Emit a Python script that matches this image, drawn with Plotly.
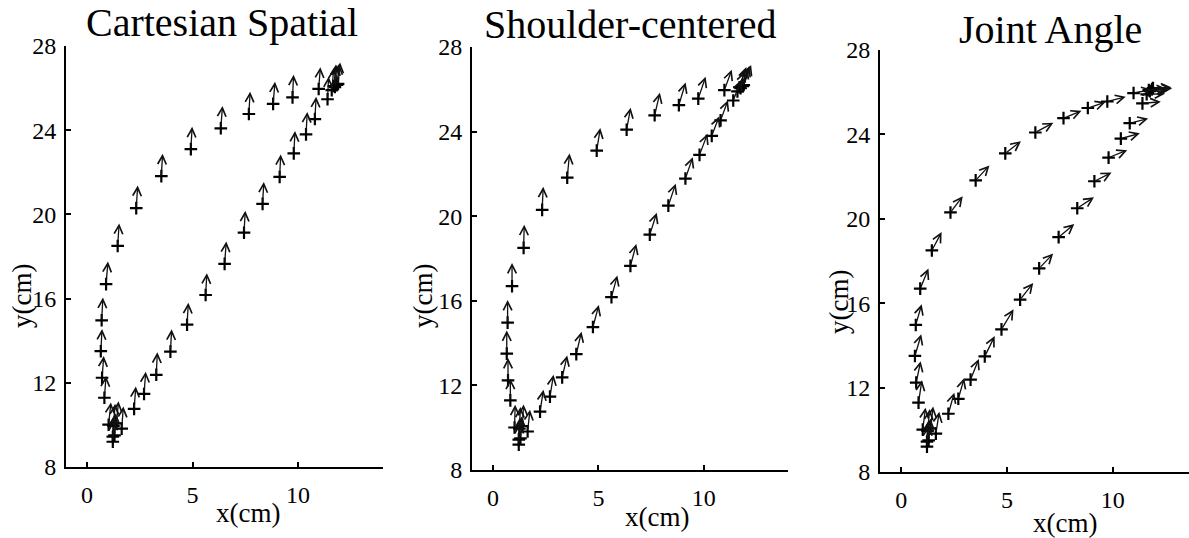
import plotly.graph_objects as go

# Hand trajectory points (cm), shared by all three panels
x = [11.85, 11.70, 10.98, 9.74, 8.82, 7.67, 6.34, 4.92, 3.52, 2.33, 1.45, 0.90,
     0.69, 0.65, 0.71, 0.82, 1.02, 1.22, 1.22, 1.30, 1.25, 1.39, 1.64, 2.23,
     2.70, 3.28, 3.95, 4.74, 5.62, 6.52, 7.44, 8.32, 9.13, 9.80, 10.38, 10.80,
     11.40, 11.60, 11.75, 11.90]
y = [26.15, 26.10, 25.96, 25.56, 25.25, 24.77, 24.09, 23.10, 21.82, 20.30, 18.50, 16.69,
     14.97, 13.50, 12.24, 11.29, 10.01, 9.44, 9.20, 9.50, 9.95, 10.07, 9.82, 10.76,
     11.47, 12.38, 13.48, 14.76, 16.17, 17.65, 19.13, 20.50, 21.78, 22.90, 23.80, 24.53,
     25.47, 25.90, 26.05, 26.20]

# Arrow components, Cartesian Spatial
u1 = [0.10, 0.10, 0.08, 0.05, 0.09, 0.06, 0.08, 0.06, 0.06, 0.07, 0.07, 0.09,
      0.06, 0.06, 0.08, 0.08, 0.11, 0.08, 0.05, 0.06, 0.08, 0.10, 0.08, 0.08,
      0.08, 0.05, 0.06, 0.06, 0.06, 0.08, 0.06, 0.06, 0.05, 0.06, 0.06, 0.06,
      0.05, 0.10, 0.10, 0.10]
v1 = [1.00, 1.02, 1.03, 1.07, 1.05, 1.06, 1.06, 1.06, 1.06, 1.07, 1.07, 1.07,
      1.08, 1.05, 1.03, 1.03, 1.06, 1.05, 1.05, 1.05, 1.05, 1.05, 1.05, 1.06,
      1.06, 1.07, 1.06, 1.04, 1.04, 1.06, 1.04, 1.04, 1.07, 1.06, 1.07, 1.06,
      1.07, 1.05, 1.05, 1.02]

# Arrow components, Shoulder-centered
u2 = [0.32, 0.32, 0.35, 0.35, 0.32, 0.25, 0.19, 0.17, 0.11, 0.05, 0.03, 0.00,
      0.00, 0.00, 0.00, 0.00, 0.03, 0.05, 0.05, 0.05, 0.05, 0.06, 0.11, 0.16,
      0.17, 0.24, 0.25, 0.28, 0.28, 0.28, 0.33, 0.35, 0.35, 0.38, 0.36, 0.35,
      0.38, 0.35, 0.35, 0.35]
v2 = [0.95, 0.95, 0.96, 1.03, 1.07, 1.07, 1.04, 1.07, 1.14, 1.09, 1.10, 1.10,
      1.07, 1.10, 1.06, 1.03, 1.07, 1.03, 1.03, 1.03, 1.03, 1.03, 1.03, 1.03,
      1.03, 1.03, 1.06, 1.04, 1.03, 1.04, 1.03, 1.04, 1.01, 1.00, 0.93, 0.95,
      0.98, 0.95, 0.95, 0.95]

# Arrow components, Joint Angle
u3 = [0.95, 0.87, 0.87, 0.87, 0.84, 0.85, 0.85, 0.74, 0.65, 0.58, 0.46, 0.39,
      0.28, 0.30, 0.21, 0.16, 0.13, 0.09, 0.08, 0.09, 0.10, 0.12, 0.16, 0.28,
      0.28, 0.39, 0.47, 0.57, 0.62, 0.66, 0.74, 0.79, 0.81, 0.88, 0.90, 0.87,
      0.87, 0.87, 0.87, 0.87]
v3 = [0.03, 0.05, 0.17, 0.22, 0.28, 0.35, 0.46, 0.58, 0.71, 0.77, 0.87, 0.95,
      0.98, 1.03, 1.01, 1.06, 1.04, 1.03, 1.03, 1.03, 1.03, 1.03, 1.03, 1.00,
      0.98, 0.98, 0.96, 0.95, 0.79, 0.70, 0.62, 0.52, 0.41, 0.35, 0.25, 0.22,
      0.08, 0.03, 0.03, 0.03]

titles = ["Cartesian Spatial", "Shoulder-centered", "Joint Angle"]
x_ticks = [0, 5, 10]
y_ticks = [8, 12, 16, 20, 24, 28]

W, H = 1189, 538
# pixel boxes (left, right, top, bottom) for each panel
boxes = [(66, 383, 46, 467), (472, 788, 47, 470), (880, 1189, 50, 472)]
xranges = [[-1, 14.03], [-1, 14.0], [-1, 13.6]]
title_pos = [(222, 22), (630, 24), (1050, 30)]
ylab_pos = [(22, 296), (423, 296), (839, 302)]
xlab_pos = [(248, 513), (657, 517), (1065, 523)]

FONT = "Liberation Serif"

fig = go.Figure()
annotations = []
us = [u1, u2, u3]
vs = [v1, v2, v3]

for i in range(3):
    n = i + 1
    xa = "x" if n == 1 else f"x{n}"
    ya = "y" if n == 1 else f"y{n}"
    l, r, t, b = boxes[i]
    fig.add_trace(go.Scatter(
        x=x, y=y, mode="markers", xaxis=xa, yaxis=ya, showlegend=False,
        marker=dict(symbol="cross-thin", size=9, line=dict(width=2.2, color="black"), color="black"),
        cliponaxis=False, hoverinfo="skip",
    ))
    for xi, yi, ui, vi in zip(x, y, us[i], vs[i]):
        annotations.append(dict(
            x=xi + ui, y=yi + vi, ax=xi, ay=yi,
            xref=xa, yref=ya, axref=xa, ayref=ya,
            text="", showarrow=True, arrowhead=5, arrowsize=1.3,
            arrowwidth=1.3, arrowcolor="#111111", standoff=0, startstandoff=0,
        ))
    axis_common = dict(
        showline=True, linecolor="black", linewidth=2, mirror=False,
        ticks="inside", ticklen=5, tickwidth=1.5, tickcolor="black",
        showgrid=False, zeroline=False, automargin=False,
        tickfont=dict(family=FONT, size=24, color="black"),
    )
    fig.update_layout(**{
        ("xaxis" if n == 1 else f"xaxis{n}"): dict(
            domain=[l / W, r / W], range=xranges[i], anchor=ya,
            tickvals=x_ticks, ticklabelstandoff=5, **axis_common),
        ("yaxis" if n == 1 else f"yaxis{n}"): dict(
            domain=[(H - b) / H, (H - t) / H], range=[8, 28], anchor=xa,
            tickvals=y_ticks, ticklabelstandoff=3, **axis_common),
    })
    tx, ty = title_pos[i]
    annotations.append(dict(x=tx / W, y=1 - ty / H, xref="paper", yref="paper",
                            text=titles[i], showarrow=False, xanchor="center", yanchor="middle",
                            font=dict(family=FONT, size=40, color="black")))
    yx, yy = ylab_pos[i]
    annotations.append(dict(x=yx / W, y=1 - yy / H, xref="paper", yref="paper",
                            text="y(cm)", showarrow=False, textangle=-90,
                            xanchor="center", yanchor="middle",
                            font=dict(family=FONT, size=27, color="black")))
    xx, xy = xlab_pos[i]
    annotations.append(dict(x=xx / W, y=1 - xy / H, xref="paper", yref="paper",
                            text="x(cm)", showarrow=False,
                            xanchor="center", yanchor="middle",
                            font=dict(family=FONT, size=27, color="black")))

fig.update_layout(
    template="none",
    width=W, height=H, margin=dict(l=0, r=0, t=0, b=0, pad=0),
    paper_bgcolor="white", plot_bgcolor="white",
    annotations=annotations, hovermode=False,
)

fig.write_html("out.html", config={"displayModeBar": False},
               post_script="document.body.style.margin='0';")
